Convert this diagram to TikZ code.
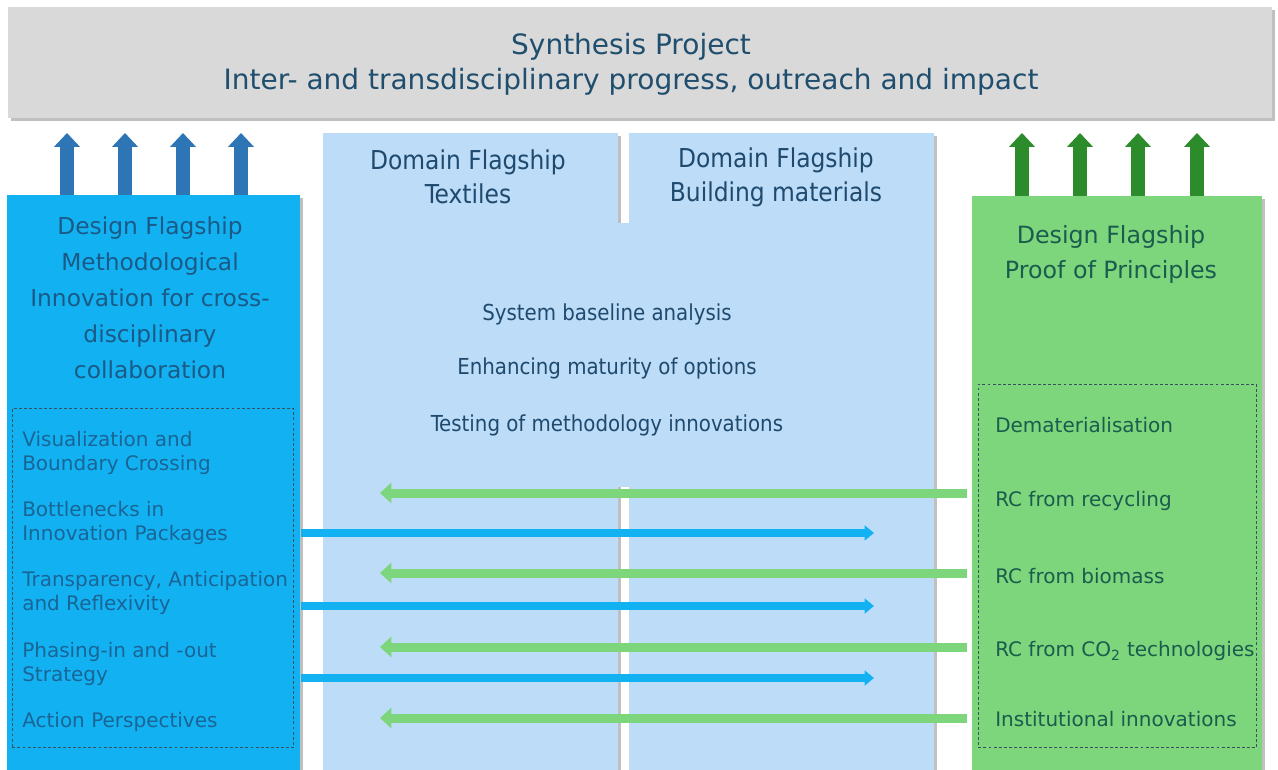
\documentclass[tikz,border=0pt]{standalone}
\usepackage{fontspec}
\setmainfont{DejaVu Sans}
\newfontfamily\condfont{DejaVu Sans Condensed}
\usetikzlibrary{arrows.meta,shadows}

\definecolor{barfill}{HTML}{D9D9D9}
\definecolor{methfill}{HTML}{12B2F2}
\definecolor{domfill}{HTML}{BCDCF8}
\definecolor{prooffill}{HTML}{7DD67B}
\definecolor{upblue}{HTML}{2E75B6}
\definecolor{upgreen}{HTML}{2C8C2C}
\definecolor{toptext}{HTML}{1F4E6E}
\definecolor{methhead}{HTML}{1B5A86}
\definecolor{methtext}{HTML}{1A6496}
\definecolor{domtext}{HTML}{1F4A6E}
\definecolor{prooftext}{HTML}{1A5C4E}
\definecolor{dashcol}{HTML}{3A5060}

\begin{document}
\begin{tikzpicture}[x=0.75pt,y=-0.75pt,
  panel/.style={draw=none,inner sep=0pt,anchor=north west,
    drop shadow={shadow xshift=2.2pt,shadow yshift=-2.2pt,opacity=0.35,fill=black!70}},
  flat/.style={draw=none,inner sep=0pt,anchor=north west},
  dashbox/.style={draw=dashcol,line width=0.6pt,dash pattern=on 2.2pt off 1.6pt,
    inner sep=0pt,anchor=north west},
  toplabel/.style={text=toptext,align=center,font=\fontsize{21pt}{26.25pt}\selectfont},
  methhd/.style={text=methhead,align=center,font=\fontsize{17.5pt}{27pt}\selectfont},
  methitem/.style={text=methtext,align=left,anchor=west,inner sep=0pt,
    font=\fontsize{15pt}{18pt}\selectfont},
  domhd/.style={text=domtext,align=center,font=\condfont\fontsize{19.5pt}{25.5pt}\selectfont},
  domitem/.style={text=domtext,font=\condfont\fontsize{16.5pt}{20pt}\selectfont},
  proofhd/.style={text=prooftext,align=center,font=\fontsize{17.8pt}{26.25pt}\selectfont},
  proofitem/.style={text=prooftext,anchor=west,inner sep=0pt,
    font=\fontsize{15pt}{18pt}\selectfont},
  uparrowb/.style={upblue,line width=10pt,-{Triangle[width=19pt,length=10.5pt]}},
  uparrowg/.style={upgreen,line width=10pt,-{Triangle[width=19pt,length=10.5pt]}},
  feedblue/.style={methfill,line width=6pt,-{Triangle[width=11pt,length=7pt]}},
  feedgreen/.style={prooffill,line width=6.75pt,-{Triangle[width=15pt,length=8.5pt]}}]

\useasboundingbox (0,0) rectangle (1278,770);
\fill[white] (0,0) rectangle (1278,770);

% synthesis bar
\node[panel,fill=barfill,minimum width=948pt,minimum height=83.25pt] (top) at (8,7) {};
\node[toplabel] (toptxt) at (631,64) {Synthesis Project\\Inter- and transdisciplinary progress, outreach and impact};

% domain flagships
\node[panel,fill=domfill,minimum width=221.25pt,minimum height=485.25pt] (tex) at (323,133) {};
\node[panel,fill=domfill,minimum width=228.75pt,minimum height=485.25pt] (bld) at (629,133) {};
\node[flat,fill=domfill,minimum width=24pt,minimum height=198pt] (join) at (610,223) {};
\node[domhd] (texhd) at (468,176.5) {Domain Flagship\\Textiles};
\node[domhd] (bldhd) at (776,177) {Domain Flagship\\Building materials};
\node[domitem] (d1) at (607,314) {System baseline analysis};
\node[domitem] (d2) at (607,368) {Enhancing maturity of options};
\node[domitem] (d3) at (607,425) {Testing of methodology innovations};

% methodological design flagship
\node[panel,fill=methfill,minimum width=219.75pt,minimum height=438.75pt] (lbox) at (7,195) {};
\node[methhd] (lhd) at (150,297.5) {Design Flagship\\Methodological\\Innovation for cross-\\disciplinary\\collaboration};
\node[dashbox,minimum width=210.75pt,minimum height=254.25pt] (ldash) at (12,408) {};
\node[methitem] (m1) at (22,453) {Visualization and\\Boundary Crossing};
\node[methitem] (m2) at (22,523) {Bottlenecks in\\Innovation Packages};
\node[methitem] (m3) at (22,593) {Transparency, Anticipation\\and Reflexivity};
\node[methitem] (m4) at (22,663.5) {Phasing-in and -out\\Strategy};
\node[methitem] (m5) at (22,722) {Action Perspectives};

% proof of principles design flagship
\node[panel,fill=prooffill,minimum width=217.5pt,minimum height=438pt] (rbox) at (972,196) {};
\node[proofhd] (rhd) at (1111,254.5) {Design Flagship\\Proof of Principles};
\node[dashbox,minimum width=208.5pt,minimum height=272.25pt] (rdash) at (978,384) {};
\node[proofitem] (p1) at (995,425) {Dematerialisation};
\node[proofitem] (p2) at (995,501) {RC from recycling};
\node[proofitem] (p3) at (995,576) {RC from biomass};
\node[proofitem] (p4) at (995,651) {RC from CO\textsubscript{2} technologies};
\node[proofitem] (p5) at (995,719) {Institutional innovations};

% contributions to the synthesis project
\coordinate (ub1) at (67,133);
\coordinate (ub2) at (125,133);
\coordinate (ub3) at (183,133);
\coordinate (ub4) at (241,133);
\coordinate (ug1) at (1022,133);
\coordinate (ug2) at (1080,133);
\coordinate (ug3) at (1138,133);
\coordinate (ug4) at (1197,133);
\foreach \u in {ub1,ub2,ub3,ub4}
  \draw[uparrowb] (\u |- lbox.north) -- (\u);
\foreach \u in {ug1,ug2,ug3,ug4}
  \draw[uparrowg] (\u |- rbox.north) -- (\u);

% exchanges with the domain flagships
\coordinate (g1) at (380,493);
\coordinate (g2) at (380,573);
\coordinate (g3) at (380,647);
\coordinate (g4) at (380,718);
\coordinate (b1) at (874,533);
\coordinate (b2) at (874,606);
\coordinate (b3) at (874,678);
\foreach \g in {g1,g2,g3,g4}
  \draw[feedgreen,shorten <=3.75pt] (rbox.west |- \g) -- (\g);
\foreach \b in {b1,b2,b3}
  \draw[feedblue] (lbox.east |- \b) -- (\b);
\end{tikzpicture}
\end{document}
